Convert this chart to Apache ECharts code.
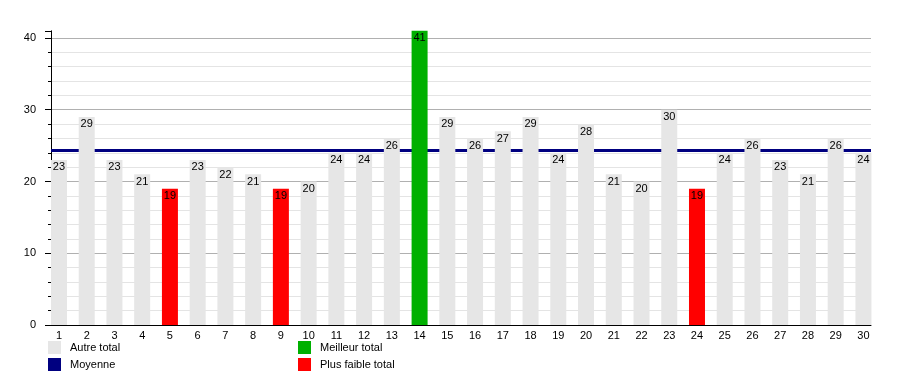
<!DOCTYPE html>
<html>
<head>
<meta charset="utf-8">
<script src="https://cdn.jsdelivr.net/npm/echarts@6/dist/echarts.min.js"></script>
<style>html,body{margin:0;padding:0;background:#fff}#c{width:900px;height:375px}</style>
</head>
<body>
<div id="c"></div>
<script>
const categories = ['1','2','3','4','5','6','7','8','9','10','11','12','13','14','15','16','17','18','19','20','21','22','23','24','25','26','27','28','29','30'];
const autreTotal = [23,29,23,21,null,23,22,21,null,20,24,24,26,null,29,26,27,29,24,28,21,20,30,null,24,26,23,21,26,24];
const meilleurTotal = [null,null,null,null,null,null,null,null,null,null,null,null,null,41,null,null,null,null,null,null,null,null,null,null,null,null,null,null,null,null];
const plusFaibleTotal = [null,null,null,null,19,null,null,null,19,null,null,null,null,null,null,null,null,null,null,null,null,null,null,19,null,null,null,null,null,null];
const moyenne = 24.4;
const yMax = 41;

const FONT = 'Liberation Sans, Arial, sans-serif';
const chart = echarts.init(document.getElementById('c'));
const minorColors = [];
for (let i = 0; i <= 21; i++) minorColors.push((i % 5 === 0 || i === 21) ? 'rgba(0,0,0,0)' : '#e4e4e4');
const majorColors = ['#b0b0b0','#b0b0b0','#b0b0b0','#b0b0b0','#b0b0b0','rgba(0,0,0,0)'];
const lbl = {show:true, position:'insideTop', distance:2, color:'#000', fontSize:11, fontFamily:FONT};
const legendBase = {orient:'horizontal', icon:'rect', itemWidth:13, itemHeight:13, textStyle:{fontSize:11, fontFamily:FONT, color:'#000', padding:[0,0,0,4]}, selectedMode:false};
chart.setOption({
  animation:false,
  grid:[
    {left:45.1, right:22.7, top:30.8, bottom:50, containLabel:false},
    {left:51, right:29, top:30.8, bottom:50, containLabel:false}
  ],
  legend:[
    Object.assign({}, legendBase, {left:43, top:336, data:['Autre total']}),
    Object.assign({}, legendBase, {left:293, top:336, data:['Meilleur total']}),
    Object.assign({}, legendBase, {left:43, top:353, data:['Moyenne']}),
    Object.assign({}, legendBase, {left:293, top:353, data:['Plus faible total']})
  ],
  xAxis:[
    {type:'category', gridIndex:0, data:categories, boundaryGap:true,
     axisLine:{show:false}, axisTick:{show:false},
     axisLabel:{interval:0, margin:5, color:'#000', fontSize:11, fontFamily:FONT},
     splitLine:{show:false}},
    {type:'category', gridIndex:1, data:categories, boundaryGap:true,
     axisLine:{show:true, lineStyle:{color:'#000', width:1}}, axisTick:{show:false},
     axisLabel:{show:false}, splitLine:{show:false}}
  ],
  yAxis:[
    {type:'value', gridIndex:0, min:0, max:yMax, show:false, splitLine:{show:false}},
    {type:'value', gridIndex:1, min:0, max:yMax, interval:10, position:'left',
     axisLine:{show:true, lineStyle:{color:'#000', width:1}},
     axisTick:{show:true, length:6, lineStyle:{color:'#000'}},
     axisLabel:{margin:15, color:'#000', fontSize:11, fontFamily:FONT, formatter:function(v){return v % 10 === 0 ? String(v) : '';}},
     splitLine:{show:true, lineStyle:{color:majorColors, width:1}}},
    {type:'value', gridIndex:1, min:0, max:yMax, interval:2, position:'left',
     axisLine:{show:false},
     axisTick:{show:true, length:3, lineStyle:{color:'#000'}},
     axisLabel:{show:false},
     splitLine:{show:true, lineStyle:{color:minorColors, width:1}}}
  ],
  series:[
    {name:'Autre total', type:'bar', data:autreTotal, barWidth:16, barGap:'-100%', xAxisIndex:0, yAxisIndex:0, z:2,
     itemStyle:{color:'#e6e6e6'}, label:lbl},
    {name:'Meilleur total', type:'bar', data:meilleurTotal, barWidth:16, barGap:'-100%', xAxisIndex:0, yAxisIndex:0, z:2,
     itemStyle:{color:'#00b000'}, label:lbl},
    {name:'Plus faible total', type:'bar', data:plusFaibleTotal, barWidth:16, barGap:'-100%', xAxisIndex:0, yAxisIndex:0, z:2,
     itemStyle:{color:'#ff0000'}, label:lbl},
    {name:'Moyenne', type:'line', data:[], xAxisIndex:1, yAxisIndex:1, z:1, color:'#000080', itemStyle:{color:'#000080'},
     markLine:{silent:true, z:1, symbol:'none', label:{show:false},
       lineStyle:{color:'#000080', width:3, type:'solid'},
       data:[{yAxis:moyenne}]}}
  ]
});
</script>
</body>
</html>
